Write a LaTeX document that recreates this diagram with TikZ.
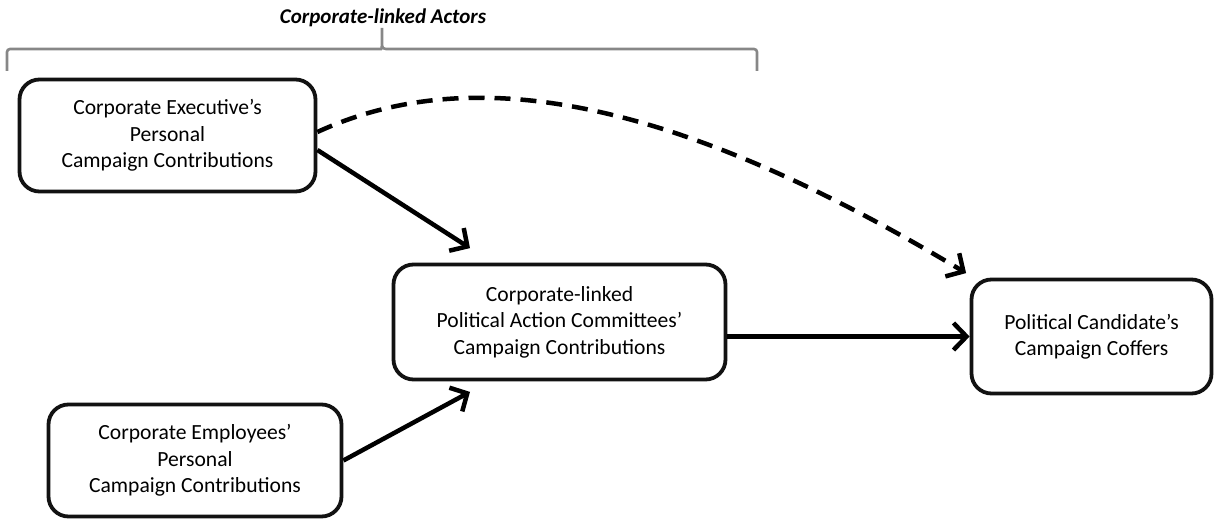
\documentclass[tikz,border=0pt]{standalone}
\usepackage{fontspec}
\setmainfont{Carlito}
\usepackage{xcolor}
\usepackage{tikz}
\usetikzlibrary{shapes,arrows.meta,positioning,calc}
\definecolor{bracegray}{RGB}{135,135,135}
\definecolor{boxink}{RGB}{18,18,18}

\begin{document}
\begin{tikzpicture}[x=1pt,y=1pt,
        actor/.style={draw=boxink, line width=3.8pt, rounded corners=20pt, align=center,
            inner sep=0pt, font=\fontsize{21.6}{26.5}\selectfont},
        flow/.style={line width=4.5pt, -{Straight Barb[length=13pt,width=27pt]}},
        tie/.style={draw=bracegray, line width=2.6pt}]
        \useasboundingbox (0,0) rectangle (1215,523);

        \node[actor, minimum width=296pt, minimum height=112pt] (exec) at (167.5,387.5)
            {Corporate Executive’s\\Personal\\Campaign Contributions};
        \node[actor, minimum width=332pt, minimum height=115pt] (pac) at (559.5,201)
            {Corporate-linked\\Political Action Committees’\\Campaign Contributions};
        \node[actor, minimum width=293pt, minimum height=112pt] (emp) at (195,62.5)
            {Corporate Employees’\\Personal\\Campaign Contributions};
        \node[actor, minimum width=240pt, minimum height=114pt] (cand) at (1091.5,186.5)
            {Political Candidate’s\\Campaign Coffers};

        \node[font=\fontsize{21}{26}\selectfont\bfseries\itshape] (actors) at (383,505) {Corporate-linked Actors};
        \draw[tie] (7,452) [rounded corners=3pt] |- (378,474) [sharp corners]
            .. controls (381,474) and (382,475) .. (382,478) -- (382,495) -- (382,478)
            .. controls (382,475) and (383,474) .. (386,474) [rounded corners=3pt] -| (757,452);

        \draw[flow] ([yshift=-14.5pt]exec.east) -- ([xshift=-89.5pt,yshift=14.5pt]pac.north);
        \draw[flow] (emp.east) -- ([xshift=-89.5pt,yshift=-10.5pt]pac.south);
        \draw[flow] (pac.east |- cand.west) -- (cand.west);
        \draw[flow, dash pattern=on 16pt off 10pt] ([yshift=3.5pt]exec.east)
            .. controls +(150,69) and +(-300,180) .. ([xshift=-3.5pt,yshift=4.5pt]cand.north west);
\end{tikzpicture}
\end{document}
